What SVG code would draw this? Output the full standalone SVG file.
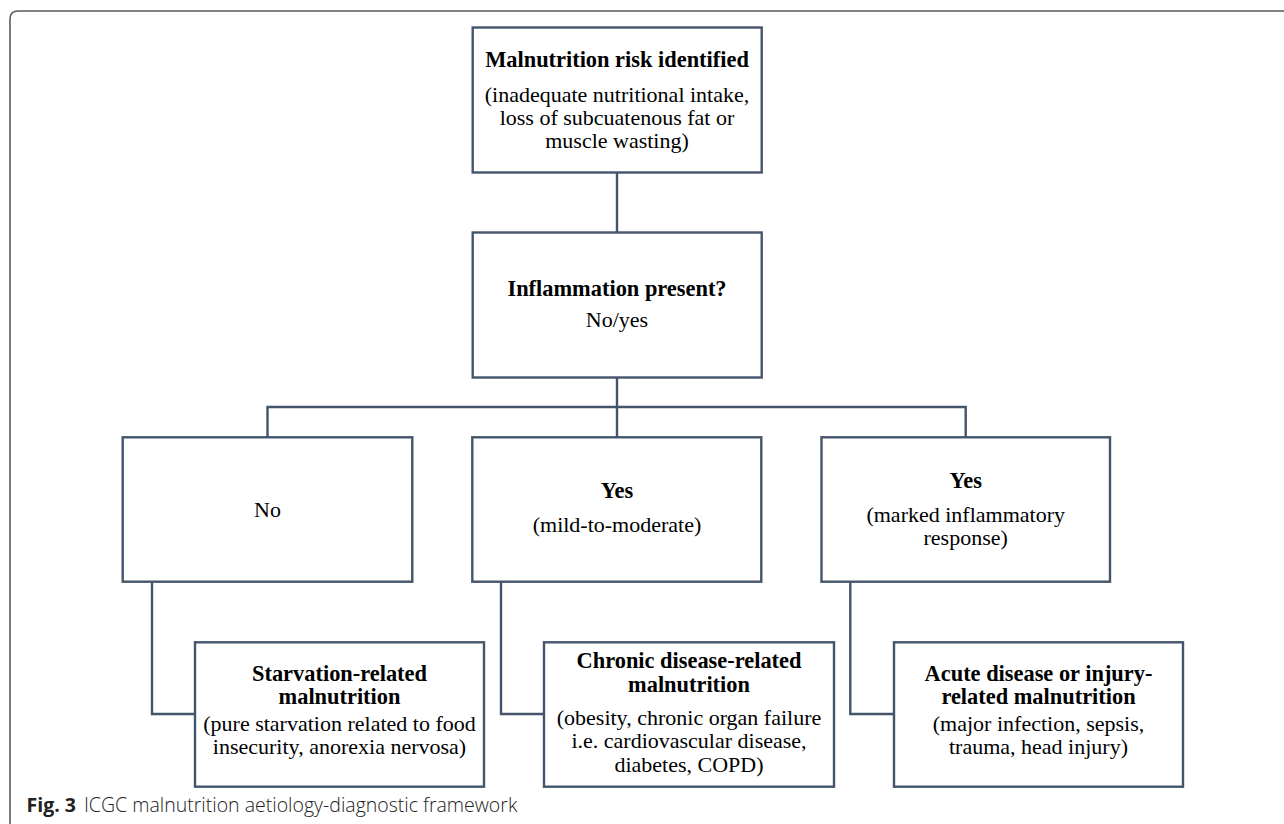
<svg xmlns="http://www.w3.org/2000/svg" width="1284" height="824" viewBox="0 0 1284 824">
<style>
.box{fill:#ffffff;stroke:#44546A;stroke-width:2.4}
.conn{fill:none;stroke:#44546A;stroke-width:2.4}
.frame{fill:none;stroke:#5a5a5a;stroke-width:1.6}
text{font-family:"Liberation Serif","Times New Roman",serif;font-size:22px;fill:#000;text-anchor:middle}
.b{font-weight:bold;font-size:22.4px}
.cap{font-family:"Open Sans","Noto Sans","Liberation Sans",sans-serif;font-size:19.5px;text-anchor:start;fill:#222}
</style>
<rect width="1284" height="824" fill="#ffffff"/>
<path class="frame" d="M10 824 V19 Q10 11 18 11 H1284"/>
<g id="connectors">
<line class="conn" x1="617" y1="173" x2="617" y2="232"/>
<line class="conn" x1="617" y1="378" x2="617" y2="437"/>
<polyline class="conn" points="267.5,437 267.5,407 965.7,407 965.7,437"/>
<polyline class="conn" points="152,582 152,714 195,714"/>
<polyline class="conn" points="501,582 501,714 544,714"/>
<polyline class="conn" points="850.3,582 850.3,714 894,714"/>
</g>
<g id="risk">
<rect class="box" x="472.7" y="27.5" width="289" height="145"/>
<text class="b" x="617" y="66.7">Malnutrition risk identified</text>
<text x="617" y="101.7">(inadequate nutritional intake,</text>
<text x="617" y="125">loss of subcuatenous fat or</text>
<text x="617" y="148.3">muscle wasting)</text>
</g>
<g id="inflammation">
<rect class="box" x="472.7" y="232.5" width="289" height="145"/>
<text class="b" x="617" y="295.7">Inflammation present?</text>
<text x="617" y="326.7">No/yes</text>
</g>
<g id="no">
<rect class="box" x="122.7" y="437.3" width="289.6" height="144.4"/>
<text x="267.5" y="517.3">No</text>
</g>
<g id="yes-mild">
<rect class="box" x="472.3" y="437.3" width="289" height="144.4"/>
<text class="b" x="617" y="498.3">Yes</text>
<text x="617" y="531.7">(mild-to-moderate)</text>
</g>
<g id="yes-marked">
<rect class="box" x="821.5" y="437.3" width="288.5" height="144.4"/>
<text class="b" x="965.7" y="488.3">Yes</text>
<text x="965.7" y="521.7">(marked inflammatory</text>
<text x="965.7" y="545">response)</text>
</g>
<g id="starvation">
<rect class="box" x="195" y="642.3" width="289" height="144.4"/>
<text class="b" x="339.5" y="680.5">Starvation-related</text>
<text class="b" x="339.5" y="703.8">malnutrition</text>
<text x="339.5" y="731">(pure starvation related to food</text>
<text x="339.5" y="754.3">insecurity, anorexia nervosa)</text>
</g>
<g id="chronic">
<rect class="box" x="544" y="642.3" width="290" height="144.4"/>
<text class="b" x="689" y="668.3">Chronic disease-related</text>
<text class="b" x="689" y="692.3">malnutrition</text>
<text x="689" y="725">(obesity, chronic organ failure</text>
<text x="689" y="748.3">i.e. cardiovascular disease,</text>
<text x="689" y="771.7">diabetes, COPD)</text>
</g>
<g id="acute">
<rect class="box" x="894" y="642.3" width="289" height="144.4"/>
<text class="b" x="1038.5" y="680.5">Acute disease or injury-</text>
<text class="b" x="1038.5" y="703.8">related malnutrition</text>
<text x="1038.5" y="731">(major infection, sepsis,</text>
<text x="1038.5" y="754.3">trauma, head injury)</text>
</g>
<g id="caption">
<text class="cap" x="26.5" y="812"><tspan font-weight="bold">Fig. 3</tspan><tspan font-weight="300" dx="8">ICGC malnutrition aetiology-diagnostic framework</tspan></text>
</g>
</svg>
